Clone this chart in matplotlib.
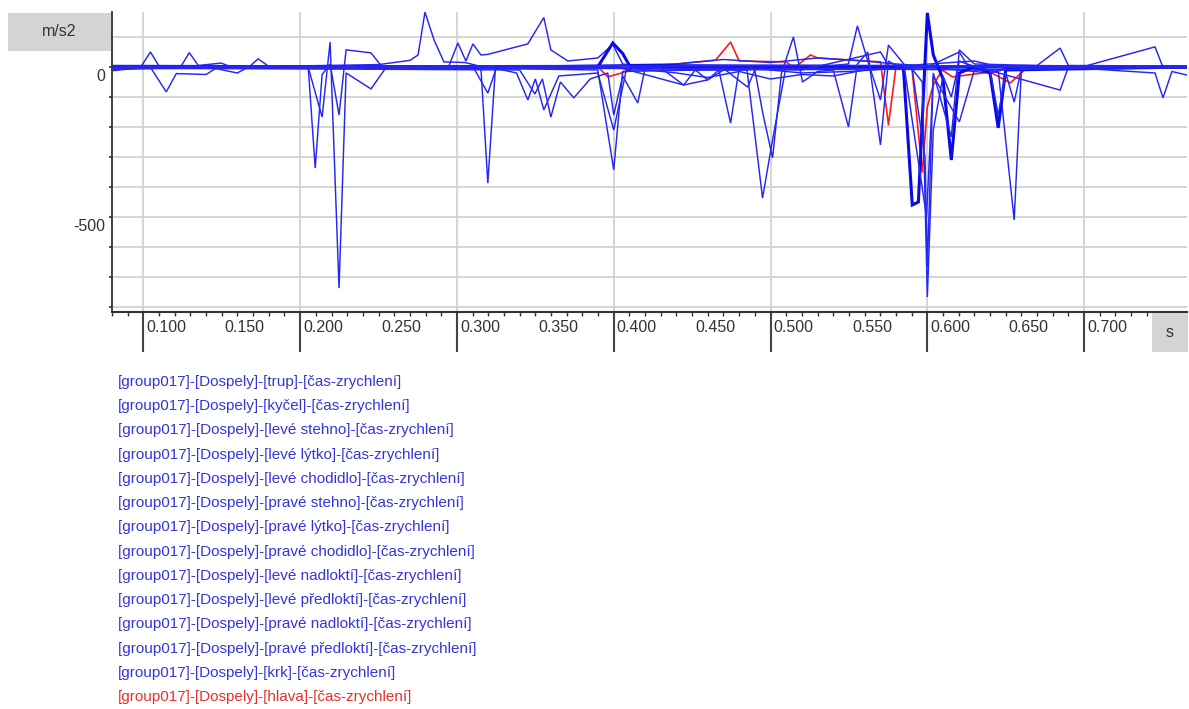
import matplotlib
matplotlib.use("Agg")
import matplotlib.pyplot as plt
from matplotlib.patches import Rectangle
import matplotlib.transforms as mtransforms

plt.rcParams['font.family'] = ['Liberation Sans', 'DejaVu Sans']

# ---------------- data ----------------
SERIES_NAMES = [
    "[group017]-[Dospely]-[trup]-[čas-zrychlení]",
    "[group017]-[Dospely]-[kyčel]-[čas-zrychlení]",
    "[group017]-[Dospely]-[levé stehno]-[čas-zrychlení]",
    "[group017]-[Dospely]-[levé lýtko]-[čas-zrychlení]",
    "[group017]-[Dospely]-[levé chodidlo]-[čas-zrychlení]",
    "[group017]-[Dospely]-[pravé stehno]-[čas-zrychlení]",
    "[group017]-[Dospely]-[pravé lýtko]-[čas-zrychlení]",
    "[group017]-[Dospely]-[pravé chodidlo]-[čas-zrychlení]",
    "[group017]-[Dospely]-[levé nadloktí]-[čas-zrychlení]",
    "[group017]-[Dospely]-[levé předloktí]-[čas-zrychlení]",
    "[group017]-[Dospely]-[pravé nadloktí]-[čas-zrychlení]",
    "[group017]-[Dospely]-[pravé předloktí]-[čas-zrychlení]",
    "[group017]-[Dospely]-[krk]-[čas-zrychlení]",
    "[group017]-[Dospely]-[hlava]-[čas-zrychlení]",
]

t_trup = [0.081, 0.098, 0.1045, 0.110, 0.124, 0.1293, 0.135, 0.1497, 0.155, 0.168, 0.1732, 0.180, 0.25, 0.27, 0.2752, 0.2796, 0.2854, 0.2917, 0.305, 0.315, 0.35, 0.44, 0.47, 0.50, 0.53, 0.56, 0.58, 0.60, 0.70, 0.7452, 0.75, 0.767]
a_trup = [-12, -3, 50, 3, 2, 48, 5, 13, 2, 3, 27, 2, 8, 22, 40, 183, 90, 17, 15, 2, 3, 10, 25, 15, 30, 20, 10, 3, 2, 67, 3, 2]

t_kycel = [0.081, 0.105, 0.1146, 0.121, 0.1401, 0.146, 0.1599, 0.166, 0.2051, 0.2096, 0.2140, 0.2191, 0.2248, 0.2293, 0.2452, 0.252, 0.30, 0.40, 0.4446, 0.4599, 0.47, 0.55, 0.63, 0.65, 0.767]
a_kycel = [-8, -5, -83, -22, -25, -5, -20, -3, 3, -337, -25, 10, -160, 57, 47, 2, 0, 3, -60, -43, -10, -8, 20, -5, -3]

t_leve_stehno = [0.081, 0.2051, 0.2140, 0.2191, 0.2248, 0.2293, 0.2452, 0.255, 0.40, 0.44, 0.46, 0.48, 0.50, 0.52, 0.54, 0.56, 0.60, 0.64, 0.66, 0.767]
a_leve_stehno = [2, 0, -167, 83, -737, -20, -73, 0, 2, -20, -35, -15, -40, -25, -30, -10, 0, -20, 5, 2]

t_leve_lytko = [0.081, 0.29, 0.295, 0.3006, 0.3057, 0.3102, 0.3153, 0.3197, 0.3452, 0.3554, 0.3599, 0.3707, 0.3898, 0.3994, 0.4057, 0.415, 0.45, 0.49, 0.52, 0.55, 0.60, 0.767]
a_leve_lytko = [3, 2, 5, 80, 20, 77, 40, 42, 77, 165, 57, 20, 30, 75, 10, 2, -10, -5, -20, -15, 2, 0]

t_leve_chodidlo = [0.081, 0.30, 0.3153, 0.3197, 0.3245, 0.3898, 0.40, 0.4057, 0.50, 0.6452, 0.6554, 0.660, 0.767]
a_leve_chodidlo = [-5, -3, -5, -387, -5, -10, -343, -15, -5, -10, -510, -5, -3]

t_prave_stehno = [0.081, 0.31, 0.3197, 0.325, 0.338, 0.3452, 0.35, 0.3554, 0.365, 0.3898, 0.40, 0.408, 0.485, 0.4949, 0.5013, 0.51, 0.767]
a_prave_stehno = [5, 3, -87, -5, -20, -110, -40, -143, -30, -20, -210, -10, -10, -437, -243, 5, 3]

t_prave_lytko = [0.081, 0.34, 0.3497, 0.3545, 0.3599, 0.366, 0.3745, 0.385, 0.3962, 0.4000, 0.4057, 0.4153, 0.42, 0.767]
a_prave_lytko = [-3, -10, -90, -40, -167, -50, -103, -40, -20, -160, -30, -120, -5, -2]

t_prave_chodidlo = [0.081, 0.39, 0.3994, 0.4057, 0.41, 0.50, 0.5847, 0.5904, 0.5943, 0.6000, 0.6038, 0.610, 0.6153, 0.6204, 0.63, 0.640, 0.6452, 0.65, 0.767]
a_prave_chodidlo = [0, 2, 80, 45, 5, 3, 0, -460, -450, 180, 40, -40, -310, -20, 0, -20, -203, -10, 0]

t_leve_nadlokti = [0.081, 0.59, 0.5968, 0.6000, 0.6038, 0.6100, 0.6153, 0.6204, 0.63, 0.64, 0.6452, 0.650, 0.6554, 0.660, 0.767]
a_leve_nadlokti = [-2, -5, -50, -767, -210, -30, -100, 20, 0, -10, -160, -20, -117, -5, -2]

t_leve_predlokti = [0.081, 0.59, 0.5985, 0.6000, 0.6038, 0.6153, 0.6204, 0.63, 0.67, 0.6847, 0.69, 0.767]
a_leve_predlokti = [3, 5, -300, -667, -20, -233, 57, 10, 5, 63, 5, 3]

t_prave_nadlokti = [0.081, 0.47, 0.4854, 0.490, 0.4949, 0.5013, 0.507, 0.5146, 0.5204, 0.53, 0.54, 0.5497, 0.5554, 0.562, 0.5701, 0.5752, 0.58, 0.767]
a_prave_nadlokti = [-5, -5, -67, -10, -150, -303, -20, 100, -50, -15, -10, -200, 10, 50, -260, 20, 5, -3]

t_prave_predlokti = [0.081, 0.54, 0.5497, 0.5554, 0.562, 0.5701, 0.5752, 0.585, 0.5995, 0.6038, 0.6204, 0.63, 0.70, 0.7452, 0.7503, 0.756, 0.7656]
a_prave_predlokti = [0, 5, 10, 137, 20, -110, 73, 10, -500, -30, -183, -10, -5, -20, -103, -15, -27]

t_krk = [0.081, 0.43, 0.4446, 0.452, 0.4599, 0.467, 0.4745, 0.480, 0.52, 0.5701, 0.5752, 0.60, 0.6204, 0.625, 0.6847, 0.69, 0.767]
a_krk = [0, -3, -60, -10, -43, -10, -187, -5, -10, 50, 5, 0, 50, 10, -77, 0, 0]

t_hlava = [0.081, 0.39, 0.3962, 0.405, 0.415, 0.44, 0.465, 0.4745, 0.480, 0.51, 0.515, 0.5255, 0.53, 0.5701, 0.5752, 0.580, 0.590, 0.5968, 0.6000, 0.6038, 0.6095, 0.616, 0.64, 0.653, 0.663, 0.70, 0.767]
a_hlava = [0, 0, -33, -20, 0, 10, 23, 83, 20, 17, -3, 40, 30, 17, -193, 0, 5, -350, -133, -60, -10, -33, -17, -53, -5, 0, 0]

SERIES_T = [t_trup, t_kycel, t_leve_stehno, t_leve_lytko, t_leve_chodidlo, t_prave_stehno,
            t_prave_lytko, t_prave_chodidlo, t_leve_nadlokti, t_leve_predlokti,
            t_prave_nadlokti, t_prave_predlokti, t_krk, t_hlava]
SERIES_A = [a_trup, a_kycel, a_leve_stehno, a_leve_lytko, a_leve_chodidlo, a_prave_stehno,
            a_prave_lytko, a_prave_chodidlo, a_leve_nadlokti, a_leve_predlokti,
            a_prave_nadlokti, a_prave_predlokti, a_krk, a_hlava]

X_LABEL_VALUES = [0.10, 0.15, 0.20, 0.25, 0.30, 0.35, 0.40, 0.45, 0.50, 0.55, 0.60, 0.65, 0.70]
X_LABELS = ["0.100", "0.150", "0.200", "0.250", "0.300", "0.350", "0.400", "0.450",
            "0.500", "0.550", "0.600", "0.650", "0.700"]
X_MAJOR = [0.1, 0.2, 0.3, 0.4, 0.5, 0.6, 0.7]
Y_LABEL_VALUES = [0, -500]
Y_LABELS = ["0", "-500"]
Y_GRID = [-800, -700, -600, -500, -400, -300, -200, -100, 0, 100]
Y_UNIT = "m/s2"
X_UNIT = "s"

# ---------------- figure ----------------
W, H = 1189, 709
fig = plt.figure(figsize=(W / 100, H / 100), dpi=100)
fig.patch.set_facecolor("white")


def fx(px):
    return px / W


def fy(py):
    return 1 - py / H


ax = fig.add_axes([fx(112), fy(312), fx(1187) - fx(112), fy(12) - fy(312)])
ax.set_xlim(0.08089, 0.76561)
ax.set_ylim(-816.7, 183.3)

GRID_C = "#d2d2d2"
for yv in Y_GRID:
    ax.axhline(yv, color=GRID_C, lw=1.3, zorder=0)
for xv in X_MAJOR:
    ax.axvline(xv, color=GRID_C, lw=1.3, zorder=0)
ax.axhline(0, color="black", lw=1.0, zorder=1)

# red (hlava) drawn beneath the blue traces
ax.plot(SERIES_T[13], SERIES_A[13], color="#ff1a1a", lw=1.2, zorder=1.5)

BLUE = "#2626f2"
for i in range(13):
    lw = 2.2 if i == 7 else 1.05
    col = "#0a0ae6" if i == 7 else BLUE
    ax.plot(SERIES_T[i], SERIES_A[i], color=col, lw=lw, zorder=2, solid_joinstyle="miter")

for s in ["top", "right"]:
    ax.spines[s].set_visible(False)
ax.spines["left"].set_color("#333333")
ax.spines["bottom"].set_color("#333333")
ax.spines["left"].set_linewidth(1.3)
ax.spines["bottom"].set_linewidth(1.5)

ax.set_yticks(Y_GRID)
ax.set_yticklabels([])
ax.tick_params(axis="y", direction="out", length=2.5, width=1.2, color="#333333")

ax.set_xticks(X_MAJOR)
ax.set_xticklabels([])
ax.set_xticks([round(0.08 + 0.01 * k, 2) for k in range(69)], minor=True)
ax.tick_params(axis="x", which="major", direction="out", length=28.5, width=1.5, color="#444444")
ax.tick_params(axis="x", which="minor", direction="out", length=3, width=1.0, color="#333333")

xtrans = mtransforms.blended_transform_factory(ax.transData, ax.transAxes)
for xv, lab in zip(X_LABEL_VALUES, X_LABELS):
    ax.annotate(lab, xy=(xv, 0), xycoords=xtrans, xytext=(3, -16), textcoords="offset pixels",
                ha="left", va="center", fontsize=11.5, color="#333333", annotation_clip=False)

ytrans = mtransforms.blended_transform_factory(ax.transAxes, ax.transData)
for yv, lab in zip(Y_LABEL_VALUES, Y_LABELS):
    ax.annotate(lab, xy=(0, yv), xycoords=ytrans, xytext=(-7, -10), textcoords="offset pixels",
                ha="right", va="center", fontsize=11.5, color="#333333", annotation_clip=False)

# unit boxes
fig.patches.append(Rectangle((fx(8), fy(51)), fx(111) - fx(8), fy(13) - fy(51),
                             transform=fig.transFigure, facecolor="#d4d4d4", edgecolor="none", zorder=5))
fig.text(fx(59), fy(32), Y_UNIT, ha="center", va="center", fontsize=11.5, color="#333333", zorder=6)
fig.patches.append(Rectangle((fx(1152), fy(352)), fx(1188) - fx(1152), fy(313) - fy(352),
                             transform=fig.transFigure, facecolor="#d4d4d4", edgecolor="none", zorder=5))
fig.text(fx(1170), fy(333), X_UNIT, ha="center", va="center", fontsize=11.5, color="#333333", zorder=6)

# legend text
for i, name in enumerate(SERIES_NAMES):
    col = "#e8302a" if i == 13 else "#3434de"
    fig.text(fx(118), fy(382 + i * 24.23), name, ha="left", va="center", fontsize=11, color=col)

fig.savefig("out.png", dpi=100)
